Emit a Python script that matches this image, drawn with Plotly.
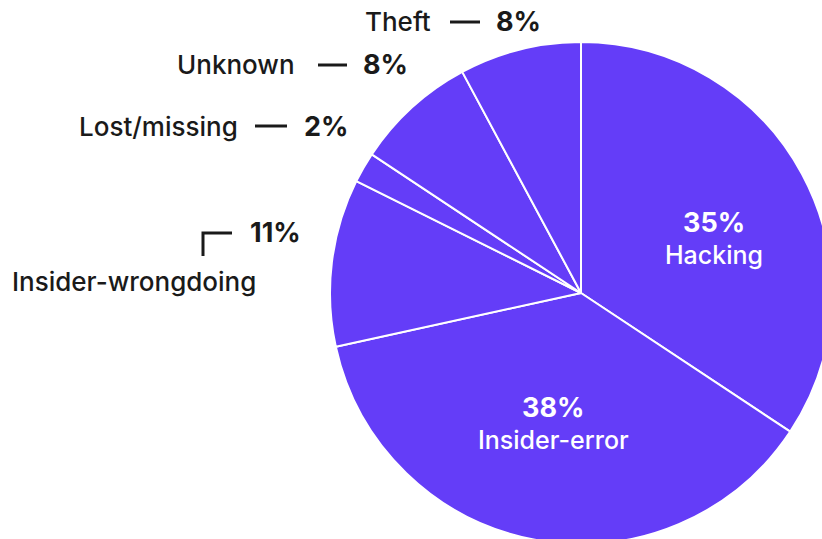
import plotly.graph_objects as go

# Breach causes (percent)
causes = ["Hacking", "Insider-error", "Insider-wrongdoing", "Lost/missing", "Unknown", "Theft"]
shares = [35, 38, 11, 2, 8, 8]

PURPLE = "#643DF8"
INK = "#1a1a1a"
FONT = "Inter"

W, H = 840, 552  # canvas slightly larger than the viewport so the pie bleeds off the edges


def px(x, y):
    """pixel position -> paper coordinates"""
    return x / W, 1 - y / H


fig = go.Figure(
    go.Pie(
        labels=causes,
        values=shares,
        sort=False,
        direction="clockwise",
        rotation=0,
        marker=dict(colors=[PURPLE] * len(causes), line=dict(color="white", width=2)),
        textinfo="none",
        hoverinfo="label+value",
        domain=dict(x=[330 / W, 832 / W], y=[1 - 544 / H, 1 - 42 / H]),
        showlegend=False,
    )
)

ann = []


def text(x, y, s, anchor="center", color=INK, weight=500, size=26):
    ax, ay = px(x, y)
    ann.append(dict(x=ax, y=ay, xref="paper", yref="paper", text=s, showarrow=False,
                    xanchor=anchor, yanchor="middle",
                    font=dict(family=FONT, size=size, color=color, weight=weight)))


share = dict(zip(causes, shares))

# labels inside the two large slices
text(714, 222, f"{share['Hacking']}%", color="white", weight=700, size=27)
text(714, 255, "Hacking", color="white", size=25)
text(553, 407, f"{share['Insider-error']}%", color="white", weight=700, size=27)
text(553, 440, "Insider-error", color="white", size=25)

# outside labels with short leader dashes
shapes = []
for name, tx, dash0, dash1, px0, y in [
    ("Theft", 433, 450, 480, 494, 22),
    ("Unknown", 297, 318, 347, 361, 65),
    ("Lost/missing", 240, 255, 287, 302, 126),
]:
    text(tx, y, name, anchor="right")
    text(px0, y, f"{share[name]}%", anchor="left", weight=700, size=27)
    x0, y0 = px(dash0, y)
    x1, _ = px(dash1, y)
    shapes.append(dict(type="line", xref="paper", yref="paper", x0=x0, x1=x1, y0=y0, y1=y0,
                       line=dict(color=INK, width=3)))

text(248, 232, f"{share['Insider-wrongdoing']}%", anchor="left", weight=700, size=27)
text(10, 281, "Insider-wrongdoing", anchor="left")
pts = [px(203, 256), px(203, 233), px(232, 233)]
path = "M {} {} L {} {} L {} {}".format(*[c for p in pts for c in p])
shapes.append(dict(type="path", xref="paper", yref="paper", path=path,
                   line=dict(color=INK, width=3)))

fig.update_layout(
    width=W,
    height=H,
    margin=dict(l=0, r=0, t=0, b=0),
    paper_bgcolor="white",
    plot_bgcolor="white",
    annotations=ann,
    shapes=shapes,
)

fig.write_html(
    "out.html",
    post_script="document.documentElement.style.overflow='hidden';document.body.style.overflow='hidden';",
)
